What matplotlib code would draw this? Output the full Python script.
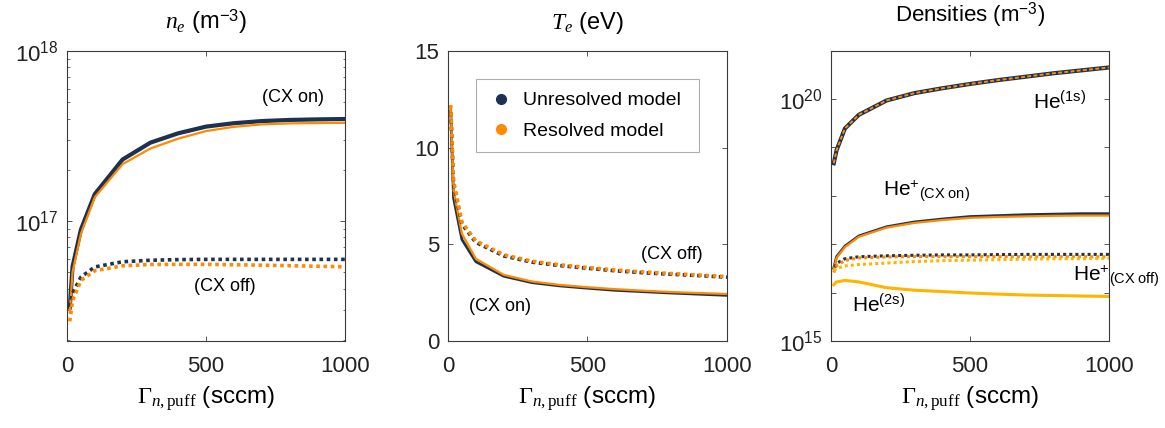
import matplotlib
matplotlib.use("Agg")
import matplotlib.pyplot as plt
import numpy as np
from matplotlib.ticker import FixedLocator, FuncFormatter, LogLocator, NullLocator

plt.rcParams["font.family"] = ["Liberation Sans", "DejaVu Sans"]
plt.rcParams["mathtext.fontset"] = "custom"
plt.rcParams["mathtext.rm"] = "Liberation Serif"
plt.rcParams["mathtext.it"] = "Liberation Serif:italic"
plt.rcParams["mathtext.sf"] = "Liberation Sans"

NAVY = "#1d3252"
ORANGE = "#ff8a00"
GOLD = "#ffb400"

# puff rate (sccm)
puff = [10, 20, 50, 100, 200, 300, 400, 500, 600, 700, 800, 900, 1000]

# electron density (m^-3)
ne_on_unres = [3.1e16, 5.4e16, 8.9e16, 1.44e17, 2.30e17, 2.89e17, 3.28e17, 3.59e17, 3.76e17, 3.87e17, 3.93e17, 3.96e17, 3.98e17]
ne_on_res = [2.9e16, 5.0e16, 8.4e16, 1.38e17, 2.16e17, 2.67e17, 3.05e17, 3.38e17, 3.58e17, 3.70e17, 3.75e17, 3.77e17, 3.78e17]
ne_off_unres = [3.13e16, 3.76e16, 4.68e16, 5.37e16, 5.76e16, 5.88e16, 5.93e16, 5.95e16, 5.95e16, 5.95e16, 5.95e16, 5.95e16, 5.95e16]
ne_off_res = [2.57e16, 3.40e16, 4.47e16, 5.10e16, 5.45e16, 5.55e16, 5.56e16, 5.56e16, 5.53e16, 5.50e16, 5.46e16, 5.42e16, 5.38e16]

# electron temperature (eV)
te_on_unres = [11.9, 7.4, 5.25, 4.1, 3.35, 3.02, 2.85, 2.73, 2.62, 2.55, 2.48, 2.42, 2.36]
te_on_res = [12.1, 7.8, 5.55, 4.25, 3.42, 3.08, 2.90, 2.78, 2.68, 2.60, 2.53, 2.48, 2.43]
te_off_unres = [12.0, 8.1, 6.05, 5.1, 4.4, 4.08, 3.9, 3.76, 3.63, 3.53, 3.45, 3.38, 3.30]
te_off_res = [12.2, 8.3, 6.15, 5.18, 4.46, 4.13, 3.94, 3.80, 3.67, 3.57, 3.49, 3.41, 3.33]

# species densities (m^-3)
he1s_unres = [4.7e18, 8.7e18, 2.45e19, 4.7e19, 9.3e19, 1.32e20, 1.66e20, 2.04e20, 2.45e20, 2.88e20, 3.39e20, 3.89e20, 4.47e20]
he1s_res = [4.7e18, 8.7e18, 2.45e19, 4.7e19, 9.3e19, 1.32e20, 1.66e20, 2.04e20, 2.45e20, 2.88e20, 3.39e20, 3.89e20, 4.47e20]
hep_on_unres = [3.2e16, 5.5e16, 9.1e16, 1.48e17, 2.29e17, 2.88e17, 3.31e17, 3.72e17, 3.89e17, 4.07e17, 4.17e17, 4.27e17, 4.27e17]
hep_on_res = [3.0e16, 5.2e16, 8.7e16, 1.42e17, 2.20e17, 2.75e17, 3.15e17, 3.50e17, 3.65e17, 3.75e17, 3.85e17, 3.90e17, 3.90e17]
hep_off_unres = [2.9e16, 4.0e16, 5.0e16, 5.5e16, 5.75e16, 5.9e16, 6.0e16, 6.0e16, 6.1e16, 6.15e16, 6.15e16, 6.15e16, 6.15e16]
hep_off_res = [2.6e16, 3.6e16, 4.6e16, 5.2e16, 5.45e16, 5.55e16, 5.55e16, 5.55e16, 5.55e16, 5.5e16, 5.5e16, 5.5e16, 5.5e16]
he2s_on = [1.45e16, 1.66e16, 1.78e16, 1.66e16, 1.26e16, 1.12e16, 1.05e16, 9.8e15, 9.3e15, 8.9e15, 8.7e15, 8.5e15, 8.3e15]
he2s_off = [2.82e16, 3.16e16, 3.55e16, 3.8e16, 4.07e16, 4.37e16, 4.57e16, 4.68e16, 4.79e16, 4.9e16, 5.0e16, 5.0e16, 5.13e16]

XLABEL = r"$\Gamma_{n,\mathrm{puff}}$ (sccm)"
DOT = (0, (1, 1))
DOT_SHIFT = (1, (1, 1))


def style_axes(ax):
    for s in ax.spines.values():
        s.set_color("#3a3a3a")
        s.set_linewidth(0.8)
    ax.tick_params(which="both", direction="in", top=True, right=True,
                   labelsize=16, colors="#3a3a3a", labelcolor="#222222")
    ax.tick_params(which="major", length=3.5, width=0.6)
    ax.tick_params(which="minor", length=1.8, width=0.5)
    ax.tick_params(axis="x", pad=11)
    ax.tick_params(axis="y", pad=6)
    ax.set_xlim(0, 1000)
    ax.set_xticks([0, 500, 1000])
    ax.xaxis.set_minor_locator(NullLocator())
    ax.set_xlabel(XLABEL, fontsize=17.5, labelpad=5)


fig = plt.figure(figsize=(11.65, 4.28), dpi=100)
ax1 = fig.add_axes([0.0575, 0.2033, 0.2386, 0.6776])
ax2 = fig.add_axes([0.3845, 0.2033, 0.2395, 0.6776])
ax3 = fig.add_axes([0.7133, 0.2033, 0.2386, 0.6776])

# electron density
ax1.semilogy(puff, ne_on_unres, color=NAVY, lw=3.0)
ax1.semilogy(puff, ne_on_res, color=ORANGE, lw=1.6)
ax1.semilogy(puff, ne_off_unres, color=NAVY, lw=2.6, ls=DOT)
ax1.semilogy(puff, ne_off_res, color=ORANGE, lw=2.6, ls=DOT)
ax1.set_ylim(1.97e16, 1e18)
ax1.yaxis.set_major_locator(LogLocator(base=10))
ax1.yaxis.set_minor_locator(LogLocator(base=10, subs=np.arange(2, 10)))
style_axes(ax1)
ax1.set_title(r"$n_e$ (m$^{\mathsf{-3}}$)", fontsize=17, pad=16)
ax1.text(812, 5.3e17, "(CX on)", fontsize=13, ha="center", va="center")
ax1.text(567, 4.1e16, "(CX off)", fontsize=13, ha="center", va="center")

# electron temperature
ax2.plot(puff, te_on_unres, color=NAVY, lw=2.0)
ax2.plot(puff, te_on_res, color=ORANGE, lw=1.6)
ax2.plot(puff, te_off_unres, color=NAVY, lw=2.6, ls=DOT_SHIFT)
ax2.plot(puff, te_off_res, color=ORANGE, lw=2.6, ls=DOT)
ax2.set_ylim(0, 15)
ax2.set_yticks([0, 5, 10, 15])
style_axes(ax2)
ax2.set_title(r"$T_e$ (eV)", fontsize=17, pad=16)
ax2.text(186, 1.8, "(CX on)", fontsize=13, ha="center", va="center")
ax2.text(803, 4.45, "(CX off)", fontsize=13, ha="center", va="center")
ax2.plot([], [], "o", color=NAVY, ms=7, label="Unresolved model")
ax2.plot([], [], "o", color=ORANGE, ms=7, label="Resolved model")
leg = ax2.legend(loc="upper left", bbox_to_anchor=(0.1, 0.652, 0.8, 0.251), mode="expand",
                 borderaxespad=0, fontsize=14, frameon=True, fancybox=False, borderpad=0.65,
                 labelspacing=0.65, handletextpad=0.5, handlelength=1.3)
leg.get_frame().set_edgecolor("#999999")
leg.get_frame().set_linewidth(0.8)

# species densities
ax3.semilogy(puff, he1s_unres, color=NAVY, lw=3.0)
ax3.semilogy(puff, he1s_res, color=ORANGE, lw=1.4, ls=(0, (2, 1.2)))
ax3.semilogy(puff, hep_on_unres, color=NAVY, lw=2.0)
ax3.semilogy(puff, hep_on_res, color=ORANGE, lw=1.6)
ax3.semilogy(puff, hep_off_unres, color=NAVY, lw=2.2, ls=DOT_SHIFT)
ax3.semilogy(puff, hep_off_res, color=ORANGE, lw=2.2, ls=DOT)
ax3.semilogy(puff, he2s_off, color=GOLD, lw=2.2, ls=DOT)
ax3.semilogy(puff, he2s_on, color=GOLD, lw=2.2)
ax3.set_ylim(1e15, 9.8e20)
ax3.yaxis.set_major_locator(FixedLocator([10.0 ** k for k in range(15, 21)]))
ax3.yaxis.set_minor_locator(NullLocator())
ax3.yaxis.set_major_formatter(FuncFormatter(
    lambda v, pos: r"$\mathdefault{10^{%d}}$" % round(np.log10(v)) if round(np.log10(v)) in (15, 20) else ""))
style_axes(ax3)
ax3.set_title(r"Densities (m$^{\mathsf{-3}}$)", fontsize=16, pad=21)
ax3.text(727, 10 ** 19.96, r"He$^{\mathsf{(1s)}}$", fontsize=15, ha="left", va="center")
ax3.text(187, 10 ** 18.1, r"He$^{\mathsf{+}}$$_{\mathsf{(CX\ on)}}$", fontsize=15, ha="left", va="center")
ax3.text(870, 10 ** 16.34, r"He$^{\mathsf{+}}$$_{\mathsf{(CX\ off)}}$", fontsize=15, ha="left", va="center")
ax3.text(76, 10 ** 15.76, r"He$^{\mathsf{(2s)}}$", fontsize=15, ha="left", va="center")

fig.savefig("out.png", dpi=100)
